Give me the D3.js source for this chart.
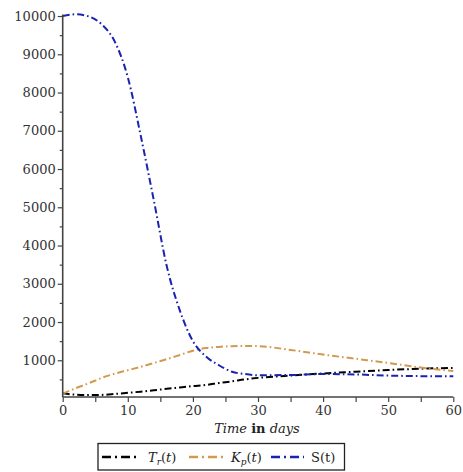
<!DOCTYPE html>
<html>
<head>
<meta charset="utf-8">
<script src="https://cdn.jsdelivr.net/npm/d3@7"></script>
<style>
  body { margin: 0; background: #fff; }
  svg text { font-family: "DejaVu Serif", "Liberation Serif", serif; }
</style>
</head>
<body>
<script>
// time (days)
const tDays = [0, 2, 4, 6, 8, 10, 12, 14, 16, 18, 20, 22, 24, 26, 28, 30, 35, 40, 45, 50, 55, 60];
const trValues = [140, 100, 90, 95, 120, 150, 180, 215, 255, 290, 325, 355, 405, 450, 500, 540, 600, 655, 700, 745, 780, 800];
const kpValues = [130, 270, 400, 540, 650, 740, 830, 930, 1030, 1140, 1250, 1320, 1350, 1370, 1375, 1370, 1270, 1150, 1040, 930, 810, 720];
const sValues = [10000, 10045, 9990, 9780, 9330, 8400, 6860, 5180, 3450, 2300, 1500, 1100, 870, 700, 640, 610, 615, 640, 630, 600, 585, 580];

const yMajor = [1000, 2000, 3000, 4000, 5000, 6000, 7000, 8000, 9000, 10000];
const yMinor = [500, 1500, 2500, 3500, 4500, 5500, 6500, 7500, 8500, 9500];
const xLabels = [0, 10, 20, 30, 40, 50, 60];
const xTicks = [0, 5, 10, 15, 20, 25, 30, 35, 40, 45, 50, 55, 60];

const series = [
  { name: 'Tr', values: trValues, color: '#000000' },
  { name: 'Kp', values: kpValues, color: '#d19a4e' },
  { name: 'S', values: sValues, color: '#1a22b0' }
];

const W = 463, H = 472;
const svg = d3.select('body').append('svg').attr('width', W).attr('height', H);

const x = d3.scaleLinear().domain([0, 60]).range([62.7, 453.3]);
const y = d3.scaleLinear().domain([40, 10040]).range([397, 14.5]);

const dash = '7,3,1.6,3';

// curves
const line = d3.line().x((d, i) => x(tDays[i])).y(d => y(d)).curve(d3.curveMonotoneX);
series.forEach(s => {
  svg.append('path')
    .attr('d', line(s.values))
    .attr('fill', 'none')
    .attr('stroke', s.color)
    .attr('stroke-width', 2)
    .attr('stroke-dasharray', dash);
});

// y axis
const yAxis = svg.append('g').attr('transform', `translate(${x(0)},0)`)
  .call(d3.axisLeft(y).tickValues(yMajor).tickSize(5).tickPadding(2).tickFormat(d3.format('d')));
svg.append('g').attr('transform', `translate(${x(0)},0)`)
  .call(d3.axisLeft(y).tickValues(yMinor).tickSize(3).tickFormat(''))
  .select('.domain').remove();

// x axis
const xAxis = svg.append('g').attr('transform', `translate(0,${y(40)})`)
  .call(d3.axisBottom(x).tickValues(xTicks).tickSize(5).tickPadding(4)
    .tickFormat(d => xLabels.includes(d) ? d : ''));

svg.selectAll('g').attr('font-family', null);
[yAxis, xAxis].forEach(g => {
  g.select('.domain').attr('stroke', '#444').attr('stroke-width', 1.6);
  g.selectAll('text').attr('fill', '#333').style('font-size', '13px');
});
svg.selectAll('.tick line').attr('stroke', '#444').attr('stroke-width', 1.2);
yAxis.select('.domain').attr('d', `M0,${y(40)}V${y(10040)}`);
xAxis.select('.domain').attr('d', `M${x(0)},0H${x(60)}`);

// x title
const xt = svg.append('text').attr('x', 257).attr('y', 433).attr('text-anchor', 'middle')
  .style('font-size', '13px').attr('fill', '#222');
xt.append('tspan').style('font-style', 'italic').text('Time ');
xt.append('tspan').style('font-weight', 'bold').text('in');
xt.append('tspan').style('font-style', 'italic').text(' days');

// legend
const leg = svg.append('g');
leg.append('rect').attr('x', 98).attr('y', 443.5).attr('width', 246.5).attr('height', 26.5)
  .attr('fill', '#fff').attr('stroke', '#222').attr('stroke-width', 1.3);
const legItems = [
  { s: series[0], x0: 102, x1: 140, tx: 148, main: 'T', sub: 'r', upright: false },
  { s: series[1], x0: 189, x1: 223, tx: 231, main: 'K', sub: 'p', upright: false },
  { s: series[2], x0: 271, x1: 304, tx: 311, main: 'S(t)', sub: null, upright: true }
];
legItems.forEach(it => {
  leg.append('line').attr('x1', it.x0).attr('x2', it.x1).attr('y1', 457).attr('y2', 457)
    .attr('stroke', it.s.color).attr('stroke-width', 2.6).attr('stroke-dasharray', '9,4,2,4');
  const t = leg.append('text').attr('x', it.tx).attr('y', 462).style('font-size', '13px').attr('fill', '#222');
  if (it.upright) {
    t.text(it.main);
  } else {
    t.append('tspan').style('font-style', 'italic').text(it.main);
    t.append('tspan').style('font-style', 'italic').style('font-size', '9px').attr('dy', 3).text(it.sub);
    t.append('tspan').attr('dy', -3).text('(');
    t.append('tspan').style('font-style', 'italic').text('t');
    t.append('tspan').text(')');
  }
});
</script>
</body>
</html>
